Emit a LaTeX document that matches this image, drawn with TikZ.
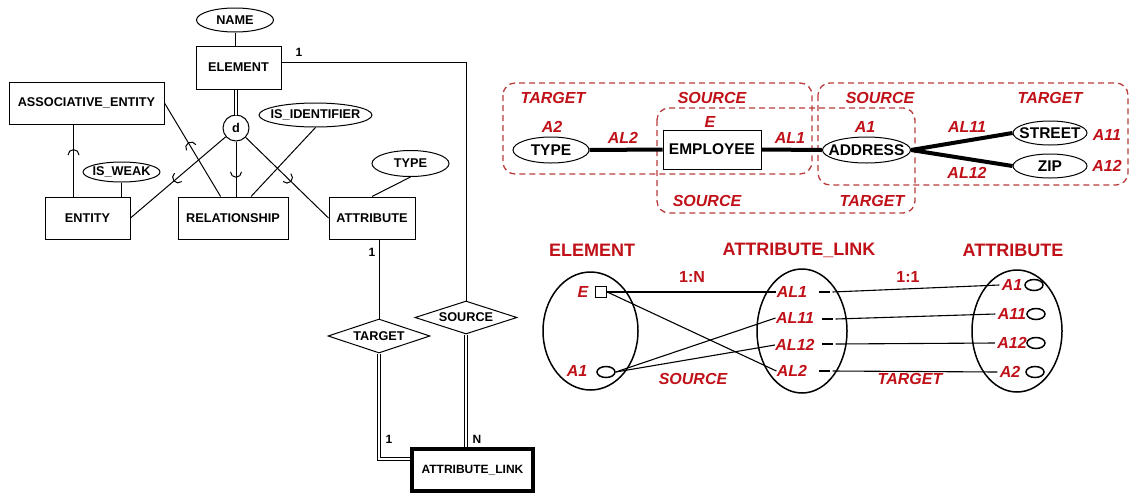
\documentclass[tikz,border=0pt]{standalone}
\usepackage{fontspec}
\setmainfont{Liberation Sans}
\usetikzlibrary{shapes.geometric,decorations.markings}
\definecolor{dred}{RGB}{192,16,24}
\definecolor{dashred}{RGB}{185,60,60}
\newcommand\zw[1]{\makebox[0pt]{#1}}
\begin{document}
\begin{tikzpicture}[x=1pt,y=-1pt, line width=1pt,
  er/.style={font=\bfseries\fontsize{12.7}{14}\selectfont, inner sep=0},
  ebox/.style={er, draw, rectangle, minimum width=#1, minimum height=42},
  eell/.style={er, draw, ellipse, minimum height=24, minimum width=#1},
  rel/.style={er, draw, diamond, aspect=3, minimum width=102, minimum height=34},
  dbl/.style={double, double distance=2.5pt, line width=0.8pt},
  subarc/.style={postaction={decorate,decoration={markings,mark=at position #1 with {\draw[line width=1pt] (0,-5.5) arc(-90:90:5.5);}}}},
  card/.style={font=\bfseries\fontsize{12}{14}\selectfont, inner sep=0},
  rl/.style={text=dred, font=\bfseries\itshape\fontsize{16}{18}\selectfont, inner sep=0},
  rn/.style={text=dred, font=\bfseries\fontsize{16}{18}\selectfont, inner sep=0},
  hdr/.style={text=dred, font=\bfseries\fontsize{18}{20}\selectfont, inner sep=0},
  bl/.style={font=\bfseries\fontsize{15.5}{17}\selectfont, inner sep=0, draw},
  dframe/.style={draw=dashred, line width=1.3pt, dash pattern=on 6pt off 4pt, rounded corners=12},
  heavy/.style={line width=4pt},
  setell/.style={draw, ellipse, line width=1.5pt, inner sep=0},
  smallell/.style={draw, ellipse, line width=1.5pt, minimum width=18, minimum height=11, inner sep=0},
  dashmark/.style={fill=black, minimum width=11, minimum height=2.2, inner sep=0, outer sep=3pt},
  thinl/.style={line width=1.1pt}
]
\useasboundingbox (0,0) rectangle (1132,496);

% ---------------- left ER diagram ----------------
\node[eell=77] (NAME) at (235,20) {\zw{NAME}};
\node[ebox=85, minimum height=43] (ELEMENT) at (238.5,67.5) {ELEMENT};
\node[ebox=155] (ASSOC) at (86.5,103) {ASSOCIATIVE\_ENTITY};
\node[er, draw, circle, minimum size=26] (d) at (236,128) {d};
\node[eell=113] (ISID) at (315.5,115) {\zw{IS\_IDENTIFIER}};
\node[eell=77, minimum height=26] (TYPE) at (410.5,163.5) {\zw{TYPE}};
\node[eell=77, minimum height=20] (ISWEAK) at (121.5,172) {\zw{IS\_WEAK}};
\node[ebox=85] (ENTITY) at (87.5,218) {ENTITY};
\node[ebox=110] (REL) at (233,218) {RELATIONSHIP};
\node[ebox=86] (ATTR) at (372,218) {ATTRIBUTE};
\node[rel] (TARGET) at (379,336) {TARGET};
\node[rel, minimum height=33] (SOURCE) at (466,317.5) {SOURCE};
\node[ebox=121, line width=4pt, font=\bfseries\fontsize{12}{14}\selectfont] (ALINK) at (472.5,470) {ATTRIBUTE\_LINK};

\draw (NAME.south) -- (NAME.south |- ELEMENT.north);
\draw[dbl] (d.north |- ELEMENT.south) -- (d.north);
\draw[subarc=0.5] (d) -- (ENTITY.east);
\draw[subarc=0.55] (d) -- (d |- REL.north);
\draw[subarc=0.5] (d) -- (ATTR.west);
\draw[subarc=0.575] (ENTITY.123) -- (ENTITY.123 |- ASSOC.south);
\draw[subarc=0.525] (REL.120) -- (ASSOC.east);
\draw (ISID.south) -- (REL.50);
\draw (ISWEAK.south) -- (ISWEAK.south |- ENTITY.north);
\draw (TYPE.south) -- (ATTR.north);
\draw (ELEMENT.6) -| (SOURCE.north);
\draw (TARGET.north) -- (TARGET.north |- ATTR.south);
\draw[dbl] (TARGET.south) |- (ALINK.170);
\draw[dbl] (SOURCE.south) -- (SOURCE.south |- ALINK.north);

\node[card] (c1) at (299,52) {1};
\node[card] (c2) at (372,252) {1};
\node[card] (c3) at (389,439) {1};
\node[card] (c4) at (477,439) {N};

% ---------------- upper right example ----------------
\draw[dframe] (503,83) rectangle (812,174);
\draw[dframe] (818,83) rectangle (1128,185);
\draw[dframe] (657,108) rectangle (915,213);

\node[bl, ellipse, minimum width=76, minimum height=26] (TYPE2) at (551,150) {\zw{TYPE}};
\node[bl, minimum width=98, minimum height=39] (EMP) at (712,149.5) {EMPLOYEE};
\node[bl, ellipse, minimum width=88, minimum height=26] (ADDR) at (866.5,150) {\zw{ADDRESS}};
\node[bl, ellipse, minimum width=74, minimum height=24] (STREET) at (1050,133) {\zw{STREET}};
\node[bl, ellipse, minimum width=74, minimum height=24] (ZIP) at (1050,166) {\zw{ZIP}};

\draw[heavy] (TYPE2.east) -- (EMP.west);
\draw[heavy] (EMP.east) -- (ADDR.west);
\draw[heavy] (ADDR.east) -- (STREET.west);
\draw[heavy] (ADDR.east) -- (ZIP.west);

\node[rl] (u1) at (553,98) {TARGET};
\node[rl] (u2) at (712,98) {SOURCE};
\node[rl] (u3) at (880,98) {SOURCE};
\node[rl] (u4) at (1050,98) {TARGET};
\node[rl] (u5) at (552,127) {A2};
\node[rl] (u6) at (623,138) {AL2};
\node[rl] (u7) at (710,122) {E};
\node[rl] (u8) at (790,138) {AL1};
\node[rl] (u9) at (865,127) {A1};
\node[rl] (u10) at (967,127) {AL11};
\node[rl] (u11) at (967,173) {AL12};
\node[rl] (u12) at (1107,135) {A11};
\node[rl] (u13) at (1107,166) {A12};
\node[rl] (u14) at (707,201) {SOURCE};
\node[rl] (u15) at (872,201) {TARGET};

% ---------------- lower right instance diagram ----------------
\node[hdr] (hEL) at (592,250) {ELEMENT};
\node[hdr] (hAL) at (799,250) {ATTRIBUTE\_LINK};
\node[hdr] (hAT) at (1013,250) {ATTRIBUTE};

\node[setell, minimum width=95, minimum height=118] (setE) at (590.5,331) {};
\node[setell, minimum width=90, minimum height=124] (setAL) at (802,331) {};
\node[setell, minimum width=90, minimum height=122] (setA) at (1017,331) {};

\node[rl] (eE) at (583,292) {E};
\node[draw, line width=1.5pt, minimum size=11, inner sep=0] (eSq) at (601,292) {};
\node[rl] (eA1) at (577,371) {A1};
\node[smallell] (eA1c) at (606,372) {};

\node[rl] (al1) at (792,292) {AL1};
\node[rl] (al11) at (795,318) {AL11};
\node[rl] (al12) at (795,345) {AL12};
\node[rl] (al2) at (792,371) {AL2};
\node[dashmark] (d1) at (824,292) {};
\node[dashmark] (d11) at (827,319) {};
\node[dashmark] (d12) at (827,344) {};
\node[dashmark] (d2) at (824,371) {};

\node[rl, inner xsep=2pt] (a1) at (1012,285) {A1};
\node[rl, inner xsep=2pt] (a11) at (1012,314) {A11};
\node[rl, inner xsep=2pt] (a12) at (1012,343) {A12};
\node[rl, inner xsep=2pt] (a2) at (1010,372) {A2};
\node[smallell] (a1c) at (1034,285) {};
\node[smallell] (a11c) at (1036,314) {};
\node[smallell] (a12c) at (1036,343) {};
\node[smallell] (a2c) at (1035,372) {};

\draw[thinl] (eSq.east) -- (al1.west);
\draw[thinl] (eSq.east) -- (al2.west);
\draw[thinl] (eA1c.east) -- (al11.west);
\draw[thinl] (eA1c.east) -- (al12.west);
\draw[thinl] (d1.east) -- (a1.west);
\draw[thinl] (d11.east) -- (a11.west);
\draw[thinl] (d12.east) -- (a12.west);
\draw[thinl] (d2.east) -- (a2.west);

\node[rn] (r1N) at (692,277) {1:N};
\node[rn] (r11) at (908,277) {1:1};
\node[rl] (lS) at (693,379) {SOURCE};
\node[rl] (lT) at (910,379) {TARGET};
\end{tikzpicture}
\end{document}
